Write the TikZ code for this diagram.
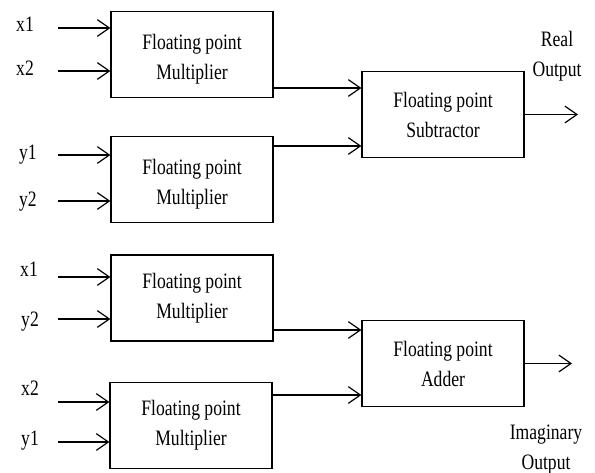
\documentclass[tikz,border=0pt]{standalone}
\usepackage{graphicx}
\usepackage{fontspec}
\setmainfont{Liberation Serif}
\usetikzlibrary{arrows.meta,calc}
\newcommand{\narrow}[1]{\scalebox{0.8}[1]{#1}}

\begin{document}
\begin{tikzpicture}[x=0.75pt,y=-0.75pt,
    every node/.style={font=\fontsize{16.5}{22.5}\selectfont},
    fpbox/.style={draw,line width=0.9pt,minimum width=121.5pt,minimum height=64.5pt,align=center,inner sep=0pt},
    lowtext/.style={text height=41pt},
    inlbl/.style={anchor=base},
    conn/.style={line width=0.9pt,-{Straight Barb[length=9pt,width=12.5pt]}}]
  \useasboundingbox (0,0) rectangle (595,473);
  % blocks
  \node[fpbox,lowtext] (mulA) at (192,54.5) {\narrow{Floating point}\\\narrow{Multiplier}};
  \node[fpbox,lowtext] (mulB) at (192,179.5) {\narrow{Floating point}\\\narrow{Multiplier}};
  \node[fpbox] (mulC) at (192,298) {\narrow{Floating point}\\\narrow{Multiplier}};
  \node[fpbox] (mulD) at (191,425.5) {\narrow{Floating point}\\\narrow{Multiplier}};
  \node[fpbox] (sub) at (443,114.5) {\narrow{Floating point}\\\narrow{Subtractor}};
  \node[fpbox] (add) at (443,363.5) {\narrow{Floating point}\\\narrow{Adder}};
  % inputs
  \foreach \lb/\lx/\ly/\ay/\dst [count=\i] in {x1/25/32/28/mulA, x2/25/76/71/mulA,
      y1/28/160/155/mulB, y2/28/207/201/mulB, x1/29/277/277/mulC, y2/30/327/319/mulC,
      x2/30/395/402/mulD, y1/30/445/442/mulD}{
    \node[inlbl] (lbl\i) at (\lx,\ly) {\narrow{\lb}};
    \coordinate (in\i) at (58,\ay);
    \draw[conn] (in\i) -- (in\i -| \dst.west);
  }
  % products into subtractor / adder
  \coordinate (mulAout) at ($(mulA.east)+(0,33.5)$);
  \coordinate (mulBout) at ($(mulB.east)+(0,-33.5)$);
  \coordinate (mulCout) at ($(mulC.east)+(0,32)$);
  \coordinate (mulDout) at ($(mulD.east)+(0,-30.5)$);
  \draw[conn] (mulAout) -- (mulAout -| sub.west);
  \draw[conn] (mulBout) -- (mulBout -| sub.west);
  \draw[conn] (mulCout) -- (mulCout -| add.west);
  \draw[conn] (mulDout) -- (mulDout -| add.west);
  % outputs
  \coordinate (realend) at (578,113);
  \coordinate (imagend) at (572,363);
  \draw[conn] (sub.east) -- (sub.east -| realend);
  \draw[conn] (add.east) -- (add.east -| imagend);
  \node[align=center] (realtxt) at (557,56) {\narrow{Real}\\\narrow{Output}};
  \node[align=center] (imagtxt) at (546,450) {\narrow{Imaginary}\\\narrow{Output}};
\end{tikzpicture}
\end{document}
